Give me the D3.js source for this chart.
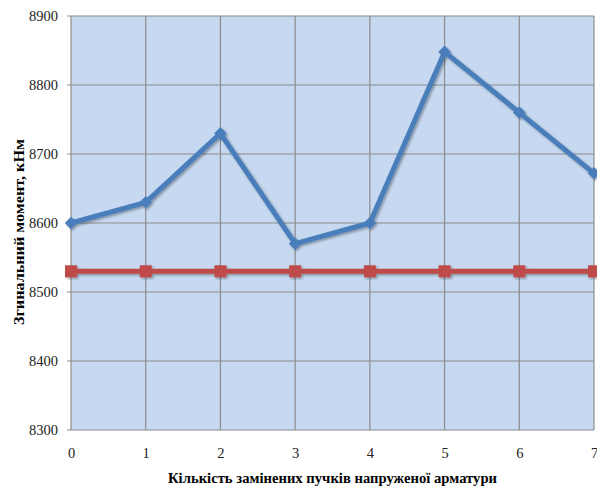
<!DOCTYPE html>
<html><head><meta charset="utf-8">
<script src="https://cdn.jsdelivr.net/npm/d3@7"></script>
<style>body{margin:0;background:#fff}</style>
</head><body>
<svg id="c" width="597" height="490"></svg>
<script>
const categories = [0,1,2,3,4,5,6,7];
const seriesBlue = [8600,8630,8730,8570,8600,8848,8760,8672];
const seriesRed = [8530,8530,8530,8530,8530,8530,8530,8530];
const yTicks = [8300,8400,8500,8600,8700,8800,8900];
const xTitle = "Кількість замінених пучків напруженої арматури";
const yTitle = "Згинальний момент, кНм";

const svg = d3.select("#c");
const m = {l:71, r:3, t:16, b:60};
const W = 597, H = 490;
const x = d3.scaleLinear().domain([0,7]).range([m.l, W-m.r]);
const y = d3.scaleLinear().domain([8300,8900]).range([H-m.b, m.t]);
const SERIF = "'Liberation Serif', 'Times New Roman', serif";

const defs = svg.append("defs");
const f = defs.append("filter").attr("id","sh").attr("x","-20%").attr("y","-20%").attr("width","140%").attr("height","140%");
f.append("feDropShadow").attr("dx",1.5).attr("dy",1.5).attr("stdDeviation",1.2).attr("flood-color","#000").attr("flood-opacity",0.35);

svg.append("rect").attr("x",m.l).attr("y",m.t).attr("width",W-m.r-m.l).attr("height",H-m.b-m.t).attr("fill","#c6d9f0");

// grid
svg.append("g").selectAll("line").data(yTicks).join("line")
  .attr("x1",m.l-4).attr("x2",W-m.r).attr("y1",d=>y(d)).attr("y2",d=>y(d))
  .attr("stroke","#8c8c8c").attr("stroke-width",1.2);
svg.append("g").selectAll("line").data(categories).join("line")
  .attr("x1",d=>x(d)).attr("x2",d=>x(d)).attr("y1",m.t).attr("y2",H-m.b)
  .attr("stroke","#8c8c8c").attr("stroke-width",1.2);

// axes labels
const yAxis = d3.axisLeft(y).tickValues(yTicks).tickFormat(d3.format("d")).tickSize(0).tickPadding(13);
const ga = svg.append("g").attr("transform",`translate(${m.l},0)`).call(yAxis);
ga.select(".domain").remove();
ga.selectAll("text").style("font-family",SERIF).style("font-size","14.5px").style("fill","#222");

const xAxis = d3.axisBottom(x).tickValues(categories).tickFormat(d3.format("d")).tickSize(0).tickPadding(18);
const gx = svg.append("g").attr("transform",`translate(0,${H-m.b})`).call(xAxis);
gx.select(".domain").remove();
gx.selectAll("text").style("font-family",SERIF).style("font-size","14.5px").style("fill","#222");

// lines
const line = d3.line().x((d,i)=>x(categories[i])).y(d=>y(d));
const gRed = svg.append("g").attr("filter","url(#sh)");
gRed.append("path").datum(seriesRed).attr("d",line).attr("fill","none").attr("stroke","#be4b48").attr("stroke-width",5);
gRed.selectAll("rect").data(seriesRed).join("rect")
  .attr("x",(d,i)=>x(categories[i])-6).attr("y",d=>y(d)-6).attr("width",12).attr("height",12).attr("fill","#be4b48");

const gBlue = svg.append("g").attr("filter","url(#sh)");
gBlue.append("path").datum(seriesBlue).attr("d",line).attr("fill","none").attr("stroke","#4a7ebb").attr("stroke-width",5).attr("stroke-linejoin","round");
gBlue.selectAll("path.m").data(seriesBlue).join("path").attr("class","m")
  .attr("d",d3.symbol(d3.symbolDiamond2,100))
  .attr("transform",(d,i)=>`translate(${x(categories[i])},${y(d)})`).attr("fill","#4a7ebb");

// titles
svg.append("text").attr("x",(m.l+W-m.r)/2).attr("y",483).attr("text-anchor","middle")
  .style("font-family",SERIF).attr("font-weight","bold").attr("font-size",15)
  .attr("textLength",329).attr("lengthAdjust","spacingAndGlyphs").text(xTitle);
svg.append("text").attr("transform",`translate(24,${232}) rotate(-90)`).attr("text-anchor","middle")
  .style("font-family",SERIF).attr("font-weight","bold").attr("font-size",15)
  .attr("textLength",186).attr("lengthAdjust","spacingAndGlyphs").text(yTitle);
</script>
</body></html>
